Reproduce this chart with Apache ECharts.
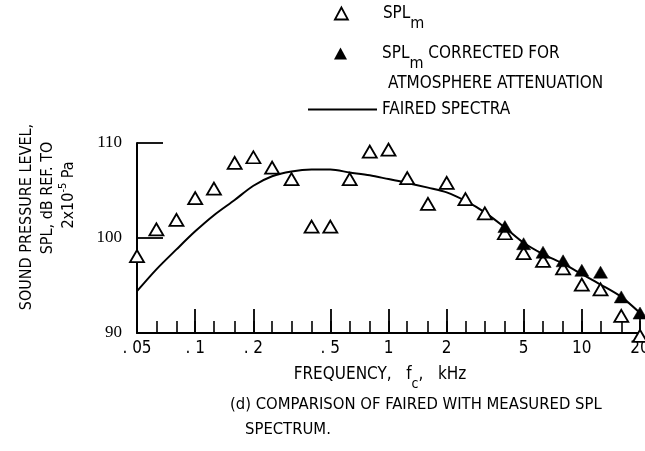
<!DOCTYPE html>
<html>
<head>
<meta charset="utf-8">
<script src="https://cdn.jsdelivr.net/npm/echarts@6/dist/echarts.min.js"></script>
<style>
html,body{margin:0;padding:0;background:#fff;}
#chart{width:645px;height:451px;}
</style>
</head>
<body>
<div id="chart"></div>
<script>
// One-third-octave band centre frequencies, kHz
const bandFreqs = [0.05,0.063,0.08,0.1,0.125,0.16,0.2,0.25,0.315,0.4,0.5,0.63,0.8,1,1.25,1.6,2,2.5,3.15,4,5,6.3,8,10,12.5,16,20];
// Labelled (long) ticks
const labelFreqs = [0.05,0.1,0.2,0.5,1,2,5,10,20];
const labelTexts = ['. 05','. 1','. 2','. 5','1','2','5','10','20'];
const yTicks = [90,100,110];
// SPL_m measured (open triangles), dB
const splMeasured = [98.1,100.9,101.9,104.2,105.2,107.9,108.5,107.4,106.2,101.2,101.2,106.2,109.1,109.3,106.3,103.6,105.8,104.1,102.6,100.5,98.4,97.6,96.8,95.1,94.6,91.8,89.7];
// SPL_m corrected for atmosphere attenuation (filled triangles)
const corrFreqs = [4,5,6.3,8,10,12.5,16,20];
const splCorrected = [101.2,99.4,98.5,97.6,96.6,96.4,93.8,92.1];
// Faired spectra (solid line)
const fairedSpl = [94.4,96.7,98.8,100.7,102.4,104.0,105.5,106.5,107.0,107.2,107.2,106.9,106.6,106.2,105.8,105.3,104.8,103.9,102.7,101.1,99.5,98.3,97.3,96.2,95.1,93.8,92.1];

const X = f => 10 * Math.log10(f);   // band-number scale (log frequency)
const FONT = "'Liberation Sans Narrow', 'DejaVu Sans Condensed', sans-serif";
const SERIF = "'Liberation Serif', 'DejaVu Serif', serif";
const xMin = X(bandFreqs[0]), xMax = X(bandFreqs[bandFreqs.length - 1]);

const richBase = {
  g: {width: 30},
  b: {fontFamily: FONT, fontSize: 17, color: '#000', verticalAlign: 'middle'},
  s: {fontFamily: FONT, fontSize: 16, color: '#000', verticalAlign: 'middle', padding: [20, 0, 0, 0]}
};

const chart = echarts.init(document.getElementById('chart'), null, {renderer: 'canvas'});
chart.setOption({
  animation: false,
  backgroundColor: '#fff',
  grid: {left: 137, right: 5, top: 143, bottom: 118, containLabel: false, outerBoundsMode: 'none'},
  xAxis: [
    {
      type: 'value', min: xMin, max: xMax, position: 'bottom',
      axisLine: {show: true, onZero: false, lineStyle: {color: '#000', width: 2}},
      axisTick: {show: true, inside: true, length: 12, lineStyle: {color: '#000', width: 1.6},
        customValues: bandFreqs.map(X)},
      axisLabel: {show: false},
      splitLine: {show: false}
    },
    {
      type: 'value', min: xMin, max: xMax, position: 'bottom',
      axisLine: {show: false, onZero: false},
      axisTick: {show: true, inside: true, length: 24, lineStyle: {color: '#000', width: 1.8},
        customValues: labelFreqs.map(X)},
      axisLabel: {show: true, margin: 7, color: '#000', fontFamily: FONT, fontSize: 17,
        customValues: labelFreqs.map(X),
        formatter: v => {
          let best = 0;
          labelFreqs.forEach((f, i) => { if (Math.abs(X(f) - v) < Math.abs(X(labelFreqs[best]) - v)) best = i; });
          return labelTexts[best];
        }},
      splitLine: {show: false}
    }
  ],
  yAxis: {
    type: 'value', min: yTicks[0], max: yTicks[yTicks.length - 1], interval: 10,
    axisLine: {show: true, onZero: false, lineStyle: {color: '#000', width: 2}},
    axisTick: {show: true, inside: true, length: 26, lineStyle: {color: '#000', width: 1.8}},
    axisLabel: {margin: 15, color: '#000', fontFamily: SERIF, fontSize: 17},
    splitLine: {show: false}
  },
  legend: [
    {
      data: ['SPLm'], left: 334, top: 5, padding: 0, itemWidth: 13, itemHeight: 12,
      selectedMode: false, icon: 'triangle',
      itemStyle: {color: '#fff', borderColor: '#000', borderWidth: 1.8},
      formatter: () => '{g|}{b|SPL}{s|m}',
      textStyle: {rich: richBase}
    },
    {
      data: ['SPLm corrected'], left: 334, top: 45, padding: 0, itemWidth: 13, itemHeight: 12,
      selectedMode: false, icon: 'triangle',
      itemStyle: {color: '#000', borderColor: '#000', borderWidth: 0},
      formatter: () => '{g|}{b|SPL}{s|m}{b| CORRECTED FOR}',
      textStyle: {rich: richBase}
    },
    {
      data: ['FAIRED SPECTRA'], left: 308, top: 101, padding: 0, itemWidth: 69, itemHeight: 2,
      selectedMode: false, icon: 'rect',
      itemStyle: {color: '#000', borderWidth: 0},
      formatter: () => '{b|FAIRED SPECTRA}',
      textStyle: {rich: richBase}
    }
  ],
  graphic: [
    {type: 'text', left: 388, top: 75, style: {text: 'ATMOSPHERE ATTENUATION', fontFamily: FONT, fontSize: 17, fill: '#000'}},
    {type: 'text', x: 27, y: 217, rotation: Math.PI / 2,
      style: {text: 'SOUND PRESSURE LEVEL,', fontFamily: FONT, fontSize: 16, fill: '#000', align: 'center', verticalAlign: 'middle'}},
    {type: 'text', x: 48, y: 198, rotation: Math.PI / 2,
      style: {text: 'SPL, dB REF. TO', fontFamily: FONT, fontSize: 16, fill: '#000', align: 'center', verticalAlign: 'middle'}},
    {type: 'text', x: 69, y: 195, rotation: Math.PI / 2,
      style: {text: '{b|2x10}{p|-5}{b| Pa}', align: 'center', verticalAlign: 'middle',
        rich: {b: {fontFamily: FONT, fontSize: 16, fill: '#000', verticalAlign: 'middle'},
               p: {fontFamily: FONT, fontSize: 11, fill: '#000', verticalAlign: 'middle', padding: [0, 0, 12, 0]}}}},
    {type: 'text', x: 380, y: 375,
      style: {text: '{b|FREQUENCY,   f}{s|c}{b|,   kHz}', align: 'center', verticalAlign: 'middle',
        rich: {b: {fontFamily: FONT, fontSize: 17, fill: '#000', verticalAlign: 'middle'},
               s: {fontFamily: FONT, fontSize: 14, fill: '#000', verticalAlign: 'middle', padding: [18, 0, 0, 0]}}}},
    {type: 'text', left: 230, top: 396, style: {text: '(d) COMPARISON OF FAIRED WITH MEASURED SPL', fontFamily: FONT, fontSize: 16.5, fill: '#000'}},
    {type: 'text', left: 245, top: 421, style: {text: 'SPECTRUM.', fontFamily: FONT, fontSize: 16.5, fill: '#000'}}
  ],
  series: [
    {
      name: 'FAIRED SPECTRA', type: 'line', xAxisIndex: 0, smooth: 0.3, symbol: 'none', color: '#000',
      lineStyle: {color: '#000', width: 2}, z: 2, silent: true,
      data: bandFreqs.map((f, i) => [X(f), fairedSpl[i]])
    },
    {
      name: 'SPLm', type: 'scatter', xAxisIndex: 0, symbol: 'triangle', symbolSize: [14, 12], clip: false,
      itemStyle: {color: '#fff', borderColor: '#000', borderWidth: 1.8, opacity: 1}, z: 3, silent: true,
      data: bandFreqs.map((f, i) => [X(f), splMeasured[i]])
    },
    {
      name: 'SPLm corrected', type: 'scatter', xAxisIndex: 0, symbol: 'triangle', symbolSize: [14, 12], clip: false,
      itemStyle: {color: '#000', borderColor: '#000', borderWidth: 0.5, opacity: 1}, z: 4, silent: true,
      data: corrFreqs.map((f, i) => [X(f), splCorrected[i]])
    }
  ]
});
</script>
</body>
</html>
